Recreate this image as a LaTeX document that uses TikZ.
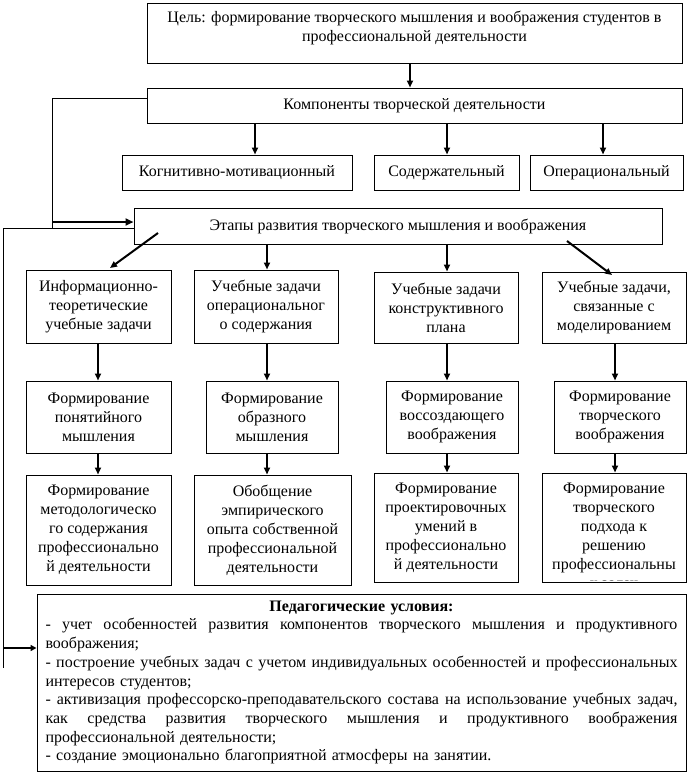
\documentclass[tikz,border=0pt]{standalone}
\usepackage{fontspec}
\setmainfont{Liberation Serif}
\usetikzlibrary{arrows.meta,calc}
\newcommand\jline[1]{\leavevmode\hbox to 632pt{\spaceskip=0.25em plus 1fil\relax #1}}
\begin{document}
\begin{tikzpicture}[x=1pt,y=-1pt,
  box/.style={draw, line width=1pt, inner sep=0pt, align=center, font=\fontsize{16}{19}\selectfont},
  txt/.style={inner sep=0pt, align=center, font=\fontsize{16}{19}\selectfont},
  arr/.style={line width=2pt, -{Triangle[length=7pt,width=6pt]}},
  conn/.style={line width=1pt}]
\useasboundingbox (0,0) rectangle (690,779);
% column x positions
\coordinate (m0) at (410,0);
\coordinate (m1) at (255,0);
\coordinate (m2) at (447,0);
\coordinate (m3) at (603,0);
\coordinate (k1) at (98,0);
\coordinate (k2) at (267,0);
\coordinate (k3) at (447,0);
\coordinate (k4) at (615,0);
% top
\node[box, minimum width=535pt, minimum height=60pt] (goal) at (414.5,33) {};
\node[txt] (goaltxt) at (414.5,28) {Цель: формирование творческого мышления и воображения студентов в\\профессиональной деятельности};
\node[box, minimum width=535pt, minimum height=35pt] (comp) at (414.5,105.5) {Компоненты творческой деятельности};
\node[box, minimum width=230pt, minimum height=35pt] (kog) at (237,172.5) {Когнитивно-мотивационный};
\node[box, minimum width=145pt, minimum height=35pt] (sod) at (446.5,172.5) {Содержательный};
\node[box, minimum width=153pt, minimum height=35pt] (oper) at (606.5,172.5) {Операциональный};
\node[box, minimum width=528pt, minimum height=36pt] (stages) at (398,226) {Этапы развития творческого мышления и воображения};
% row 1
\node[box, minimum width=145pt, minimum height=73pt] (r1c1) at (98.5,306.5) {Информационно-\\теоретические\\учебные задачи};
\node[box, minimum width=144pt, minimum height=73pt] (r1c2) at (266,306.5) {Учебные задачи\\операциональног\\о содержания};
\node[box, minimum width=144pt, minimum height=71pt] (r1c3) at (446,307.5) {Учебные задачи\\конструктивного\\плана};
\node[box, minimum width=144pt, minimum height=71pt] (r1c4) at (614,307.5) {Учебные задачи,\\связанные с\\моделированием};
% row 2
\node[box, minimum width=145pt, minimum height=72pt] (r2c1) at (98.5,417) {Формирование\\понятийного\\мышления};
\node[box, minimum width=132pt, minimum height=72pt] (r2c2) at (272,417) {Формирование\\образного\\мышления};
\node[box, minimum width=132pt, minimum height=72pt] (r2c3) at (452,417) {Формирование\\воссоздающего\\воображения};
\node[box, minimum width=132pt, minimum height=72pt] (r2c4) at (620,417) {Формирование\\творческого\\воображения};
% row 3
\node[box, minimum width=145pt, minimum height=110pt] (r3c1) at (98.5,530) {Формирование\\методологическо\\го содержания\\профессионально\\й деятельности};
\node[box, minimum width=157pt, minimum height=110pt] (r3c2) at (272.5,530) {Обобщение\\эмпирического\\опыта собственной\\профессиональной\\деятельности};
\node[box, minimum width=144pt, minimum height=109pt] (r3c3) at (446,527.5) {Формирование\\проектировочных\\умений в\\профессионально\\й деятельности};
\node[box, minimum width=144pt, minimum height=109pt] (r3c4) at (614,527.5) {};
\begin{scope}
  \clip ([xshift=1pt,yshift=-1pt]r3c4.north west) rectangle ([xshift=-1pt,yshift=2.5pt]r3c4.south east);
  \node[txt] (r3c4txt) at ([yshift=-9.5pt]r3c4.center) {Формирование\\творческого\\подхода к\\решению\\профессиональны\\х задач};
\end{scope}
% pedagogical conditions
\node[draw, line width=1pt, minimum width=649pt, minimum height=177pt, inner xsep=8.5pt, inner ysep=0pt,
      text width=632pt, align=left, font=\fontsize{16}{18.7}\selectfont] (ped) at (361.5,682.5) {%
\makebox[632pt][c]{\bfseries Педагогические условия:}\\
\jline{- учет особенностей развития компонентов творческого мышления и продуктивного}\\
воображения;\\
\jline{- построение учебных задач с учетом индивидуальных особенностей и профессиональных}\\
интересов студентов;\\
\jline{- активизация профессорско-преподавательского состава на использование учебных задач,}\\
\jline{как средства развития творческого мышления и продуктивного воображения}\\
профессиональной деятельности;\\
- создание эмоционально благоприятной атмосферы на занятии.};
% arrows
\draw[arr] (goal.south -| m0) -- (comp.north -| m0);
\draw[arr] (comp.south -| m1) -- (kog.north -| m1);
\draw[arr] (comp.south -| m2) -- (sod.north -| m2);
\draw[arr] (comp.south -| m3) -- (oper.north -| m3);
\draw[arr] (stages.south -| k2) -- (r1c2.north -| k2);
\draw[arr] (stages.south -| k3) -- (r1c3.north -| k3);
\coordinate (d1s) at (158,233);
\coordinate (d1e) at (110,268);
\coordinate (d2s) at (567,241);
\coordinate (d2e) at (612,275);
\draw[arr] (d1s) -- (d1e);
\draw[arr] (d2s) -- (d2e);
\foreach \i in {1,2,3,4}{
  \draw[arr] (r1c\i.south -| k\i) -- (r2c\i.north -| k\i);
  \draw[arr] (r2c\i.south -| k\i) -- (r3c\i.north -| k\i);
}
% left connectors
\coordinate (c1) at (52,98);
\coordinate (c1b) at (52,229);
\coordinate (a1s) at (52,222);
\draw[conn] (comp.west |- c1) -- (c1) -- (c1b);
\draw[line width=2.5pt, -{Triangle[length=8pt,width=7pt]}] (a1s) -- (a1s -| stages.west);
\coordinate (c2) at (3,228);
\coordinate (c2b) at (3,668);
\coordinate (a2s) at (3,648);
\draw[conn] (stages.west |- c2) -- (c2) -- (c2b);
\draw[line width=2pt, -{Triangle[length=6pt,width=6pt]}] (a2s) -- (a2s -| ped.west);
\end{tikzpicture}
\end{document}
